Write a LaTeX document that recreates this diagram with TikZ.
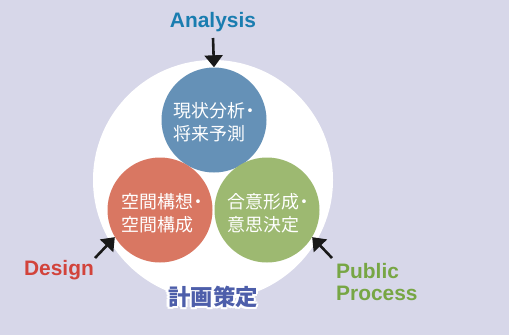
\documentclass[tikz,border=0pt]{standalone}
\usepackage{fontspec}
\setmainfont{Liberation Sans}
\newfontfamily\jpfont{Noto Sans CJK JP}
\usetikzlibrary{
  arrows.meta,
  calc
}

\definecolor{bgpurple}{HTML}{D7D7E9}
\definecolor{anablue}{HTML}{6591B7}
\definecolor{desred}{HTML}{D97762}
\definecolor{pubgreen}{HTML}{9DB971}
\definecolor{anatext}{HTML}{1A7DB0}
\definecolor{destext}{HTML}{D2433B}
\definecolor{pubtext}{HTML}{77A644}
\definecolor{plantext}{HTML}{4D5EAA}

% tight middle dot after a word
\newcommand{\jpdot}{\kern-0.2em・}

\begin{document}
\begin{tikzpicture}[x=1bp, y=-1bp]

\tikzset{
  sphere/.style={
    circle,
    minimum size=105bp,
    inner sep=0pt
  },
  words/.style={
    font=\jpfont\fontsize{18}{23.5}\selectfont,
    text=white,
    align=left,
    inner sep=0pt,
    anchor=west
  },
  keyword/.style={
    font=\bfseries\fontsize{21}{23}\selectfont,
    align=left,
    inner sep=0pt
  },
  plan/.style={
    font=\jpfont\bfseries\fontsize{22.5}{24}\selectfont,
    inner sep=0pt
  },
  push/.style={
    ->,
    line width=2.6bp,
    black!90
  },
  >={Triangle[length=12bp, width=18bp]}
}

% Background
\useasboundingbox (0,0) rectangle (509,335);
\fill[bgpurple] (0,0) rectangle (509,335);

% Outer circle
\node[circle, fill=white, minimum size=240bp, inner sep=0pt] (plan) at (213,180) {};

% Nodes circles
\node[sphere, fill=anablue]  (ana) at (214,120) {};
\node[sphere, fill=desred]   (des) at (160,210) {};
\node[sphere, fill=pubgreen] (pub) at (267,210) {};

% Texts in circles
\node[words] (anawords) at (173,122.3) {現状分析\jpdot\\将来予測};
\node[words] (deswords) at (121,213)   {空間構想\jpdot\\空間構成};
\node[words] (pubwords) at (227,213)   {合意形成\jpdot\\意思決定};

% Nodes keywords
\node[keyword, text=anatext] (anakey) at (213,22)  {Analysis};
\node[keyword, text=destext] (deskey) at (59,270)  {Design};
\node[keyword, text=pubtext, anchor=west] (pubkey) at (336,282) {Public\\Process};

% Node title with white halo
\foreach \a in {0,45,...,315}
  \node[plan, text=white] (halo\a) at ($(213,297)+(\a:2.2bp)$) {計画策定};
\node[plan, text=plantext] (title) at (213,297) {計画策定};

% Arrows
\coordinate (anatail) at (213,38);
\coordinate (destail) at (95,258);
\coordinate (pubtail) at (332,258);
\draw[push] (anatail) -- (ana.north);
\draw[push] (destail) -- (des.211);
\draw[push] (pubtail) -- (pub.329);

\end{tikzpicture}
\end{document}
